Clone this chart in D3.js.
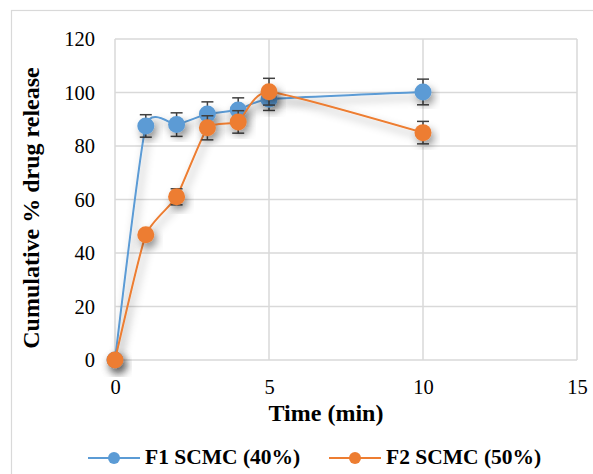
<!DOCTYPE html>
<html>
<head>
<meta charset="utf-8">
<script src="https://cdn.jsdelivr.net/npm/d3@7"></script>
<style>
  body { margin: 0; background: #fff; }
  text { font-family: "Liberation Serif", "Times New Roman", serif; fill: #000; }
</style>
</head>
<body>
<div id="chart"></div>
<script>
// time points (min)
const times = [0, 1, 2, 3, 4, 5, 10];
// cumulative % drug release
const f1Values = [0, 87.5, 88, 92, 93.5, 97.5, 100.2];
const f1Errors = [0, 4.2, 4.4, 4.5, 4.5, 4.2, 4.8];
const f2Values = [0, 46.8, 61, 86.8, 89, 100.3, 85];
const f2Errors = [0, 0, 3, 4.5, 4.2, 5, 4.2];
const seriesNames = ["F1 SCMC (40%)", "F2 SCMC (50%)"];
const yTicks = [0, 20, 40, 60, 80, 100, 120];
const xTicks = [0, 5, 10, 15];

const colors = {
    f1: '#5b9bd5',
    f2: '#ed7d31',
    grid: '#d9d9d9',
    err: '#404040',
}

const width = 593, height = 474;
const margin = {top: 39, right: 16, bottom: 114, left: 115};
const innerW = width - margin.left - margin.right;
const innerH = height - margin.top - margin.bottom;

const svg = d3.select("#chart").append("svg")
    .attr("width", width)
    .attr("height", height);

// soft shadow like the office chart
const defs = svg.append("defs");
const filt = defs.append("filter").attr("id", "shadow")
    .attr("x", "-50%").attr("y", "-50%").attr("width", "200%").attr("height", "200%");
filt.append("feDropShadow")
    .attr("dx", 3).attr("dy", 5).attr("stdDeviation", 4)
    .attr("flood-color", "#000").attr("flood-opacity", 0.4);

// outer chart border
svg.append("rect")
    .attr("x", 11.5).attr("y", 10.5)
    .attr("width", width).attr("height", height)
    .attr("fill", "none").attr("stroke", colors.grid).attr("stroke-width", 1.2);

const g = svg.append("g")
    .attr("transform", "translate(" + margin.left + "," + margin.top + ")");

const x = d3.scaleLinear().domain([0, 15]).range([0, innerW]);
const y = d3.scaleLinear().domain([0, 120]).range([innerH, 0]);

// gridlines
g.append("g").selectAll("line").data(yTicks).join("line")
    .attr("x1", 0).attr("x2", innerW)
    .attr("y1", d => y(d)).attr("y2", d => y(d))
    .attr("stroke", colors.grid).attr("stroke-width", 1.5);
g.append("g").selectAll("line").data(xTicks).join("line")
    .attr("y1", 0).attr("y2", innerH)
    .attr("x1", d => x(d)).attr("x2", d => x(d))
    .attr("stroke", colors.grid).attr("stroke-width", 1.5);

// tick labels
const yAxis = g.append("g").call(d3.axisLeft(y).tickValues(yTicks).tickSize(0).tickPadding(20));
const xAxis = g.append("g").attr("transform", "translate(0," + innerH + ")")
    .call(d3.axisBottom(x).tickValues(xTicks).tickSize(0).tickPadding(19));
[yAxis, xAxis].forEach(a => {
    a.select(".domain").remove();
    a.selectAll("text").style("font-size", "20.5px").attr("font-family", null);
});

// axis titles
svg.append("text")
    .attr("x", 326).attr("y", 421)
    .attr("text-anchor", "middle")
    .style("font-size", "24px").style("font-weight", "bold")
    .text("Time (min)");
svg.append("text")
    .attr("transform", "translate(38.5,208) rotate(-90)")
    .attr("text-anchor", "middle")
    .style("font-size", "24px").style("font-weight", "bold")
    .text("Cumulative % drug release");

const series = [
    {name: seriesNames[0], values: f1Values, errors: f1Errors, color: colors.f1},
    {name: seriesNames[1], values: f2Values, errors: f2Errors, color: colors.f2},
];

const line = d3.line()
    .x(d => x(d.t)).y(d => y(d.v))
    .curve(d3.curveCardinal.tension(0.5));

series.forEach(s => {
    const pts = times.map((t, i) => ({t: t, v: s.values[i], e: s.errors[i]}));
    const sg = g.append("g");

    sg.append("path")
        .datum(pts)
        .attr("d", line)
        .attr("fill", "none")
        .attr("stroke", s.color)
        .attr("stroke-width", 2)
        .attr("filter", "url(#shadow)");

    // error bars
    const eb = sg.append("g").selectAll("g").data(pts.filter(d => d.e > 0)).join("g")
        .attr("stroke", colors.err).attr("stroke-width", 1.5);
    eb.append("line")
        .attr("x1", d => x(d.t)).attr("x2", d => x(d.t))
        .attr("y1", d => y(d.v + d.e)).attr("y2", d => y(d.v - d.e));
    eb.append("line")
        .attr("x1", d => x(d.t) - 6).attr("x2", d => x(d.t) + 6)
        .attr("y1", d => y(d.v + d.e)).attr("y2", d => y(d.v + d.e));
    eb.append("line")
        .attr("x1", d => x(d.t) - 6).attr("x2", d => x(d.t) + 6)
        .attr("y1", d => y(d.v - d.e)).attr("y2", d => y(d.v - d.e));

    sg.append("g").selectAll("circle").data(pts).join("circle")
        .attr("cx", d => x(d.t)).attr("cy", d => y(d.v))
        .attr("r", 8.5)
        .attr("fill", s.color)
        .attr("filter", "url(#shadow)");
});

// legend
const legendX = [88, 329];
series.forEach((s, i) => {
    const lg = svg.append("g").attr("transform", "translate(" + legendX[i] + ",458)");
    lg.append("line").attr("x1", 0).attr("x2", 52)
        .attr("stroke", s.color).attr("stroke-width", 2);
    lg.append("circle").attr("cx", 26).attr("cy", 0).attr("r", 6).attr("fill", s.color);
    lg.append("text").attr("x", 57).attr("y", 5.5)
        .style("font-size", "21.5px").style("font-weight", "bold")
        .text(s.name);
});
</script>
</body>
</html>
